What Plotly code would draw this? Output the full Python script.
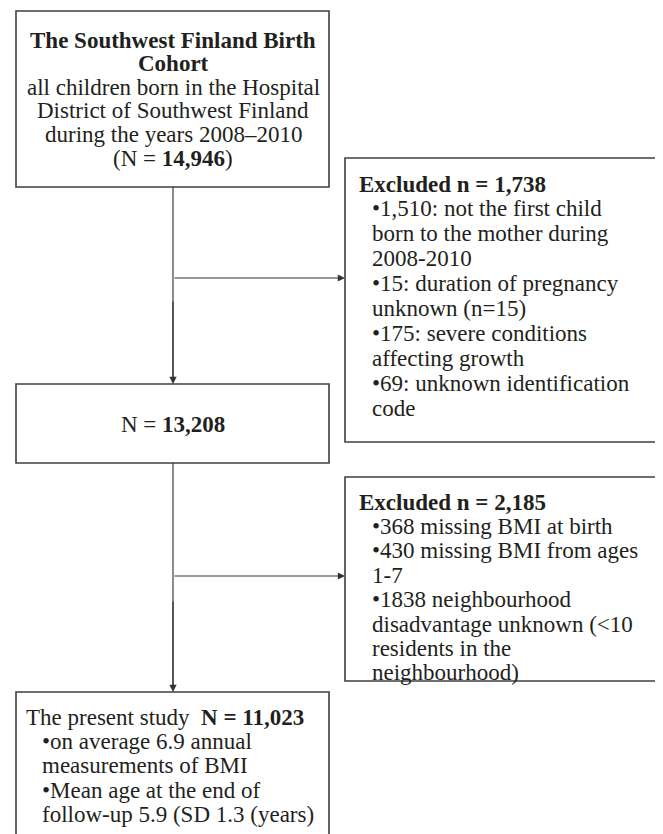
import plotly.graph_objects as go

# ---- data (text content of the flow chart) ----
cohort_lines = [
    "<b>The Southwest Finland Birth</b>",
    "<b>Cohort</b>",
    "all children born in the Hospital",
    "District of Southwest Finland",
    "during the years 2008–2010",
    "(N = <b>14,946</b>)",
]
excluded1_header = "<b>Excluded n = 1,738</b>"
excluded1_lines = [
    "•1,510: not the first child",
    "born to the mother during",
    "2008-2010",
    "•15: duration of pregnancy",
    "unknown (n=15)",
    "•175: severe conditions",
    "affecting growth",
    "•69: unknown identification",
    "code",
]
step2_lines = ["N = <b>13,208</b>"]
excluded2_header = "<b>Excluded n = 2,185</b>"
excluded2_lines = [
    "•368 missing BMI at birth",
    "•430 missing BMI from ages",
    "1-7",
    "•1838 neighbourhood",
    "disadvantage unknown (&lt;10",
    "residents in the",
    "neighbourhood)",
]
final_header = "The present study  <b>N = 11,023</b>"
final_lines = [
    "•on average 6.9 annual",
    "measurements of BMI",
    "•Mean age at the end of",
    "follow-up 5.9 (SD 1.3 (years)",
]

# ---- layout geometry ----
W, H = 663, 834
OFF = 8  # page body margin
FONT = "Liberation Serif, Times New Roman, serif"
FS = 23
TXT = "#231f20"
EDGE = "#3f3f3f"

boxes = {
    "cohort": (16, 11, 329, 187),
    "exc1": (345, 158, 657, 442),
    "step2": (16, 384, 329, 463),
    "exc2": (345, 477, 657, 681),
    "final": (16, 692, 329, 850),
}

fig = go.Figure()
shapes = []
for (x0, y0, x1, y1) in boxes.values():
    shapes.append(dict(type="rect", xref="x", yref="y", x0=x0, y0=y0, x1=x1, y1=y1,
                       line=dict(color=EDGE, width=1.6), fillcolor="rgba(0,0,0,0)"))
trunk_x = 173
shapes.append(dict(type="line", xref="x", yref="y", x0=trunk_x, x1=trunk_x, y0=187, y1=380,
                   line=dict(color=EDGE, width=1.2)))
shapes.append(dict(type="line", xref="x", yref="y", x0=trunk_x, x1=trunk_x, y0=463, y1=688,
                   line=dict(color=EDGE, width=1.2)))

annotations = []

def arrow(x0, y0, x1, y1):
    annotations.append(dict(x=x1, y=y1, ax=x0, ay=y0, xref="x", yref="y", axref="x", ayref="y",
                            text="", showarrow=True, arrowhead=2, arrowsize=1.2,
                            arrowwidth=1.2, arrowcolor="#333333", standoff=0))

arrow(trunk_x, 300, trunk_x, 384)
arrow(trunk_x, 278, 345, 278)
arrow(trunk_x, 600, trunk_x, 692)
arrow(trunk_x, 576, 345, 576)

def line_text(txt, x, y, anchor="left"):
    annotations.append(dict(x=x, y=y, xref="x", yref="y", text=txt, showarrow=False,
                            xanchor=anchor, yanchor="middle",
                            font=dict(family=FONT, size=FS, color=TXT)))

for i, t in enumerate(cohort_lines):
    line_text(t, 173, 40 + i * 23.6, "center")
line_text(excluded1_header, 357, 184)
for i, t in enumerate(excluded1_lines):
    line_text(t, 370, 184 + (i + 1) * 24.9)
line_text(step2_lines[0], 173, 424, "center")
line_text(excluded2_header, 357, 502)
for i, t in enumerate(excluded2_lines):
    line_text(t, 370, 502 + (i + 1) * 24.4)
line_text(final_header, 24, 717)
for i, t in enumerate(final_lines):
    line_text(t, 40, 717 + (i + 1) * 24.4)

fig.update_layout(
    width=W - OFF, height=H - OFF, margin=dict(l=0, r=0, t=0, b=0),
    paper_bgcolor="white", plot_bgcolor="white",
    xaxis=dict(range=[OFF, W], visible=False, fixedrange=True),
    yaxis=dict(range=[H, OFF], visible=False, fixedrange=True),
    shapes=shapes, annotations=annotations, showlegend=False,
)
fig.write_html("out.html")
